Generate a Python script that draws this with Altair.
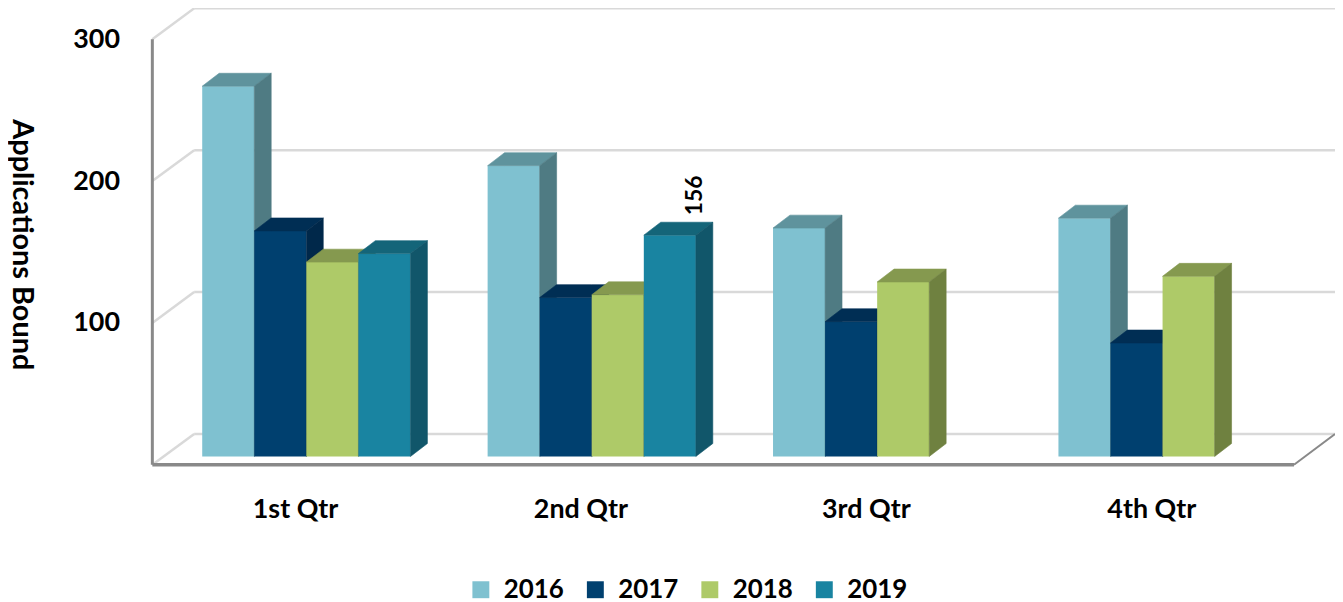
import altair as alt
import pandas as pd

# ---------------- data ----------------
quarters = ["1st Qtr", "2nd Qtr", "3rd Qtr", "4th Qtr"]
years = ["2016", "2017", "2018", "2019"]
v2016 = [261, 205, 161, 168]
v2017 = [159, 112, 95, 80]
v2018 = [137, 114, 123, 127]
v2019 = [143, 156, None, None]
y_ticks = [100, 200, 300]
grid_values = [0, 100, 200, 300]
labelled_bar = ("2nd Qtr", "2019")

# ---------------- style ----------------
front_colors = ["#7fc1d0", "#00406f", "#aeca68", "#1984a1"]
top_colors = ["#5f939d", "#002e54", "#85994f", "#146579"]
side_colors = ["#4f7b83", "#00284a", "#6f8140", "#11566a"]
FONT = "Lato"

# ---------------- layout (3D oblique projection) ----------------
PX_X = 286.7          # px per category
PX_V = 1.425          # px per value unit
W = 1188
H = 457.5
XMAX = W / PX_X
YMAX = H / PX_V
WALL_DX = 42 / PX_X
WALL_DY = 31 / PX_V
BAR_W = 52.3 / PX_X
GROUP_START = (1 - 4 * BAR_W) / 2
FRONT_DX = 0.27 * WALL_DX
FRONT_DY = 0.27 * WALL_DY
DEPTH_DX = 17 / PX_X
DEPTH_DY = 13 / PX_V

series = {"2016": v2016, "2017": v2017, "2018": v2018, "2019": v2019}

front_rows, top_rows, side_rows, label_rows = [], [], [], []
for si, yr in enumerate(years):
    for qi, q in enumerate(quarters):
        v = series[yr][qi]
        if v is None:
            continue
        xl = qi + GROUP_START + si * BAR_W + FRONT_DX
        xr = xl + BAR_W
        base = FRONT_DY
        top = base + v
        bid = f"{yr}-{q}"
        front_rows.append(dict(year=yr, quarter=q, value=v, x=xl, x2=xr, y=base, y2=top))
        for xx, a, b in [(xl, top, top), (xl + DEPTH_DX, top, top + DEPTH_DY),
                         (xr, top, top + DEPTH_DY), (xr + DEPTH_DX, top + DEPTH_DY, top + DEPTH_DY)]:
            top_rows.append(dict(year=yr, bar=bid, x=xx, y=a, y2=b, fill=top_colors[si]))
        for xx, a, b in [(xr, base, top), (xr + DEPTH_DX, base + DEPTH_DY, top + DEPTH_DY)]:
            side_rows.append(dict(year=yr, bar=bid, x=xx, y=a, y2=b, fill=side_colors[si]))
        if (q, yr) == labelled_bar:
            label_rows.append(dict(x=xl + BAR_W / 2 + DEPTH_DX, y=top + DEPTH_DY, text=str(v)))

front_df = pd.DataFrame(front_rows)
top_df = pd.DataFrame(top_rows)
side_df = pd.DataFrame(side_rows)
label_df = pd.DataFrame(label_rows)

# wall / floor lines
light_rows, dark_rows = [], []
for g in grid_values:
    light_rows.append(dict(x=WALL_DX, x2=XMAX, y=g + WALL_DY, y2=g + WALL_DY))
    light_rows.append(dict(x=0, x2=WALL_DX, y=g, y2=g + WALL_DY))
dark_rows.append(dict(x=0, x2=0, y=0, y2=max(y_ticks), w=3))
dark_rows.append(dict(x=0, x2=len(quarters), y=0, y2=0, w=3.5))
dark_rows.append(dict(x=len(quarters), x2=XMAX, y=0, y2=WALL_DY, w=2))
light_df = pd.DataFrame(light_rows)
dark_df = pd.DataFrame(dark_rows)

# ---------------- encodings ----------------
xscale = alt.Scale(domain=[0, XMAX], nice=False, zero=False)
yscale = alt.Scale(domain=[0, YMAX], nice=False, zero=False)
label_expr = "[" + ",".join(f"'{q}'" for q in quarters) + "][floor(datum.value)]"
xaxis = alt.Axis(values=[i + 0.5 for i in range(len(quarters))], labelExpr=label_expr,
                 title=None, domain=False, ticks=False, grid=False, labelFlush=False,
                 labelFont=FONT, labelFontSize=27, labelFontWeight="bold",
                 labelColor="black", labelPadding=32, labelOverlap=False)
yaxis = alt.Axis(values=y_ticks, title="Applications Bound", titleAngle=90,
                 titleX=-131, titleY=236, titleAlign="center", titleBaseline="middle",
                 titleFont=FONT, titleFontSize=29, titleFontWeight="bold", titleColor="black",
                 domain=False, ticks=False, grid=False,
                 labelFont=FONT, labelFontSize=27, labelFontWeight="bold",
                 labelColor="black", labelPadding=33)

X = alt.X("x:Q", scale=xscale, axis=xaxis)
Y = alt.Y("y:Q", scale=yscale, axis=yaxis)

color_enc = alt.Color(
    "year:N",
    scale=alt.Scale(domain=years, range=front_colors),
    legend=alt.Legend(orient="none", legendX=317, legendY=570, direction="horizontal",
                      title=None, symbolType="square", symbolSize=289, symbolStrokeWidth=0,
                      labelFont=FONT, labelFontSize=26, labelFontWeight="bold",
                      labelColor="black", labelOffset=10, columnPadding=18),
)

light = alt.Chart(light_df).mark_rule(color="#d9d9d9", strokeWidth=2.5).encode(
    x=X, x2="x2:Q", y=Y, y2="y2:Q")
dark = alt.Chart(dark_df).mark_rule(color="#898989").encode(
    x=X, x2="x2:Q", y=Y, y2="y2:Q",
    strokeWidth=alt.StrokeWidth("w:Q", scale=None))

layers = [light, dark]
for yr in years:
    f = front_df[front_df.year == yr]
    t = top_df[top_df.year == yr]
    s = side_df[side_df.year == yr]
    layers.append(alt.Chart(f).mark_rect(strokeWidth=0).encode(
        x=X, x2="x2:Q", y=Y, y2="y2:Q", color=color_enc))
    layers.append(alt.Chart(t).mark_area(interpolate="linear", strokeWidth=0.6).encode(
        x=X, y=Y, y2="y2:Q", detail="bar:N",
        fill=alt.Fill("fill:N", scale=None), stroke=alt.Stroke("fill:N", scale=None)))
    layers.append(alt.Chart(s).mark_area(interpolate="linear", strokeWidth=0.6).encode(
        x=X, y=Y, y2="y2:Q", detail="bar:N",
        fill=alt.Fill("fill:N", scale=None), stroke=alt.Stroke("fill:N", scale=None)))

label = alt.Chart(label_df).mark_text(angle=270, align="left", baseline="middle",
                                      dx=7, dy=8, font=FONT, fontSize=23,
                                      fontWeight="bold", color="black").encode(
    x=X, y=Y, text="text:N")
layers.append(label)

chart = alt.layer(*layers).properties(
    width=W, height=H,
    autosize=alt.AutoSizeParams(type="none"),
    padding={"left": 145, "top": 0, "right": 0, "bottom": 144},
    background="white",
).configure_view(stroke=None)

chart.save("out.html", embed_options={"renderer": "svg", "actions": False})
